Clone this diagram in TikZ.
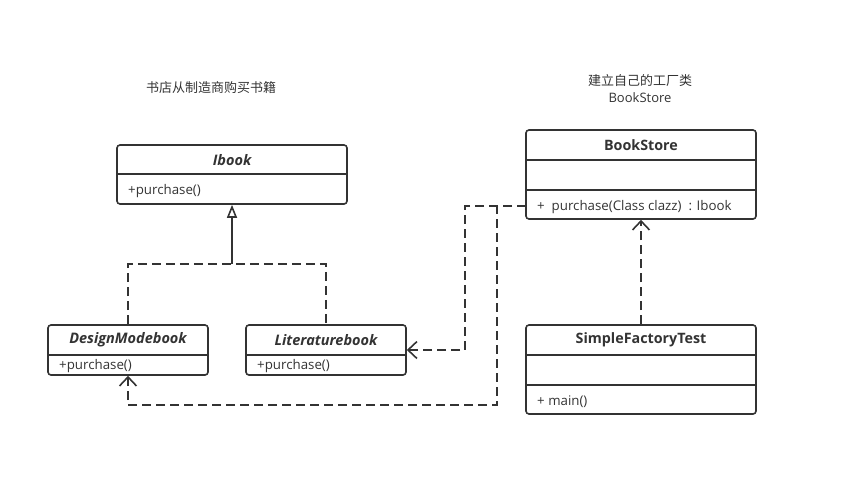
\documentclass[tikz,border=0pt]{standalone}
\usepackage{fontspec}
\setmainfont{Open Sans}
\newfontfamily\cjk{Noto Sans CJK SC}
\usetikzlibrary{arrows.meta}
\definecolor{ink}{HTML}{333333}
\begin{document}
\begin{tikzpicture}[x=1pt,y=-1pt,
  umlbox/.style={draw=ink,line width=1.6pt,rounded corners=3pt,inner sep=0pt,fill=white},
  divider/.style={draw=ink,line width=1.6pt},
  cname/.style={font=\bfseries\itshape\fontsize{14.5}{16}\selectfont,text=ink,inner sep=0pt},
  cnameup/.style={font=\bfseries\fontsize{14.3}{16}\selectfont,text=ink,inner sep=0pt},
  member/.style={font=\fontsize{13.3}{15}\selectfont,text=ink,inner sep=0pt,anchor=west},
  note/.style={font=\cjk\fontsize{13}{17}\selectfont,text=ink,inner sep=0pt,align=center},
  dep/.style={draw=ink,line width=1.6pt,dash pattern=on 9pt off 5pt,-{Straight Barb[length=9pt,width=17pt,line width=1.6pt]}},
  realize/.style={draw=ink,line width=1.6pt,dash pattern=on 9pt off 5pt},
  inherit/.style={draw=ink,line width=1.6pt,-{Triangle[open,length=13pt,width=10pt,line width=1.6pt,fill=white]}}
]
\useasboundingbox (0,0) rectangle (843,477);

% notes
\node[note] (t1) at (211,88) {书店从制造商购买书籍};
\node[note] (t2) at (640,88.5) {建立自己的工厂类\\{\fontspec{Open Sans}BookStore}};

% Ibook
\node[umlbox,minimum width=230pt,minimum height=59pt] (ibook) at (232,174.5) {};
\draw[divider] (117,174) -- (347,174);
\node[cname] (ibookname) at (232,160) {Ibook};
\node[member] (ibookm) at (128,191) {+purchase()};

% DesignModebook
\node[umlbox,minimum width=160pt,minimum height=50pt] (design) at (128,350) {};
\draw[divider] (48,355) -- (208,355);
\node[cname] (designname) at (128,340) {DesignModebook};
\node[member] (designm) at (59,366) {+purchase()};

% Literaturebook
\node[umlbox,minimum width=160pt,minimum height=50pt] (lit) at (326,350) {};
\draw[divider] (246,355) -- (406,355);
\node[cname] (litname) at (326,340) {Literaturebook};
\node[member] (litm) at (257,366) {+purchase()};

% BookStore
\node[umlbox,minimum width=230pt,minimum height=89pt] (bs) at (641,174.5) {};
\draw[divider] (526,160) -- (756,160);
\draw[divider] (526,190) -- (756,190);
\node[cnameup] (bsname) at (641,145) {BookStore};
\node[member] (bsm) at (537,207) {+\ \ purchase(Class clazz)\ \ : Ibook};

% SimpleFactoryTest
\node[umlbox,minimum width=230pt,minimum height=89pt] (sft) at (641,369.5) {};
\draw[divider] (526,355) -- (756,355);
\draw[divider] (526,385) -- (756,385);
\node[cnameup] (sftname) at (641,340) {SimpleFactoryTest};
\node[member] (sftm) at (537,402) {+ main()};

% connectors
\coordinate (j1) at (232,264);
\draw[inherit] (j1) -- (ibook.south);
\draw[realize] (design.north) |- (j1) -| (lit.north);

\coordinate (bsop) at (526,206);
\coordinate (k1) at (465,350);
\coordinate (k2) at (497,405);
\draw[dep] (bsop) -| (k1) -- (lit.east);
\draw[dep] (bsop) -| (k2) -| (design.south);
\draw[dep] (sft.north) -- (bs.south);
\end{tikzpicture}
\end{document}
